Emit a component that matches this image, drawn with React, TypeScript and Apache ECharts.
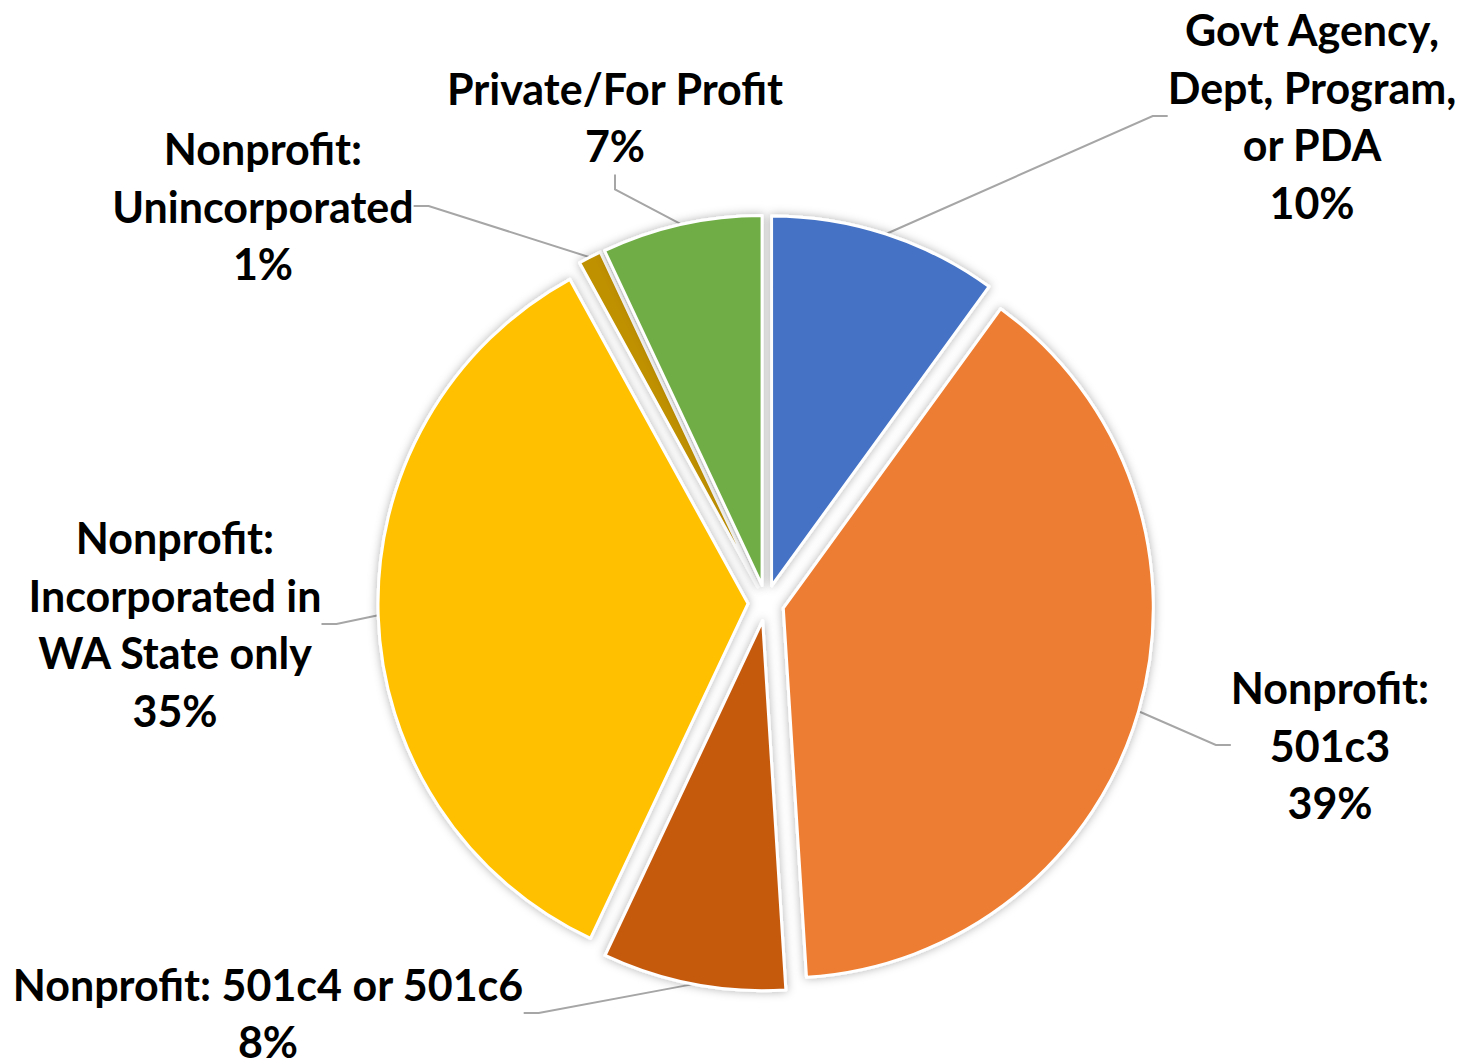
import React, { useEffect, useRef } from "react";
import * as echarts from "echarts";

const categories = [
  "Govt Agency,\nDept, Program,\nor PDA",
  "Nonprofit:\n501c3",
  "Nonprofit: 501c4 or 501c6",
  "Nonprofit:\nIncorporated in\nWA State only",
  "Nonprofit:\nUnincorporated",
  "Private/For Profit",
];
const values = [10, 39, 8, 35, 1, 7];
const colors = ["#4472C4", "#ED7D31", "#C55A11", "#FFC000", "#BF9000", "#70AD47"];

// label block centres (layout only)
const labelCenters: [number, number][] = [
  [1312, 116],
  [1330, 745],
  [268, 1013],
  [175, 624],
  [263, 206],
  [615, 117],
];

const CX = 766;
const CY = 603;
const RADIUS = 370;
const EXPLODE = 18;

export default function App() {
  const ref = useRef<HTMLDivElement>(null);
  useEffect(() => {
    if (!ref.current) return;
    const chart = echarts.init(ref.current, undefined, { renderer: "svg" });
    const total = values.reduce((a, b) => a + b, 0);
    let cum = 0;
    const series = values.map((v, i) => {
      const mid = ((cum + v / 2) / total) * 2 * Math.PI;
      cum += v;
      const cx = CX + EXPLODE * Math.sin(mid);
      const cy = CY - EXPLODE * Math.cos(mid);
      return {
        type: "pie",
        center: [cx, cy],
        radius: RADIUS,
        startAngle: 90,
        clockwise: true,
        emphasis: { disabled: true },
        avoidLabelOverlap: false,
        z: 2,
        label: {
          show: false,
          position: "outside",
          fontFamily: "Lato",
          fontWeight: "bold",
          fontSize: 43,
          lineHeight: 57.5,
          color: "#000000",
          align: "center",
          formatter: (p: any) => `${p.name}\n${Math.round(p.percent)}%`,
        },
        labelLine: {
          show: false,
          length: 20,
          length2: 15,
          lineStyle: { color: "#A6A6A6", width: 2 },
        },
        labelLayout: (params: any) => {
          const c = labelCenters[params.dataIndex];
          return { x: c[0], y: c[1], align: "center", verticalAlign: "middle" };
        },
        data: categories.map((name, j) => {
          const own = j === i;
          return {
            name,
            value: values[j],
            itemStyle: own
              ? {
                  color: colors[j],
                  borderColor: "#ffffff",
                  borderWidth: 3,
                  shadowBlur: 10,
                  shadowColor: "rgba(0,0,0,0.3)",
                }
              : { color: "rgba(0,0,0,0)", borderWidth: 0, shadowBlur: 0 },
            label: { show: own },
            labelLine: { show: own },
          };
        }),
      };
    });
    chart.setOption({
      animation: false,
      backgroundColor: "#ffffff",
      series,
    });
    return () => chart.dispose();
  }, []);
  return (
    <div
      ref={ref}
      style={{ position: "absolute", left: 0, top: 0, width: 1467, height: 1060 }}
    />
  );
}
